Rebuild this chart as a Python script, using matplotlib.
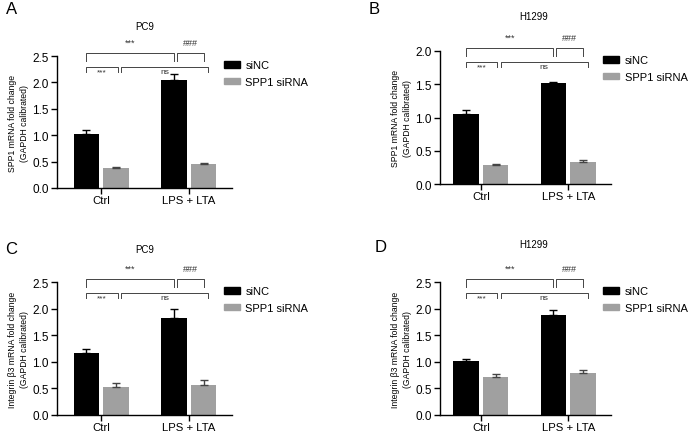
import numpy as np
import matplotlib
matplotlib.use("Agg")
import matplotlib.pyplot as plt
from matplotlib.patches import Patch
import matplotlib.transforms as mtransforms

plt.rcParams["font.family"] = ["Liberation Sans", "DejaVu Sans"]

# ==========================================================
# data
# ==========================================================

groups = ["Ctrl", "LPS + LTA"]

a_sinc = [1.02, 2.04]
a_sinc_err = [0.08, 0.12]
a_spp1 = [0.37, 0.46]
a_spp1_err = [0.02, 0.01]

b_sinc = [1.06, 1.52]
b_sinc_err = [0.06, 0.02]
b_spp1 = [0.28, 0.33]
b_spp1_err = [0.015, 0.03]

c_sinc = [1.17, 1.82]
c_sinc_err = [0.08, 0.18]
c_spp1 = [0.52, 0.56]
c_spp1_err = [0.09, 0.10]

d_sinc = [1.02, 1.88]
d_sinc_err = [0.04, 0.09]
d_spp1 = [0.72, 0.79]
d_spp1_err = [0.06, 0.06]

spp1_label = "SPP1 mRNA fold change\n(GAPDH calibrated)"
itg_label = "Integrin \u03b23 mRNA fold change\n(GAPDH calibrated)"

W, H = 691, 435

# panel: letter, title, ylabel, ymax, sinc, sinc_err, spp1, spp1_err,
#        axes rect in pixels (left, right, top, bottom), letter pos, title y
panels = [
    ("A", "PC9", spp1_label, 2.5, a_sinc, a_sinc_err, a_spp1, a_spp1_err,
     (57, 232, 57, 189), (6, 10), 1.23),
    ("B", "H1299", spp1_label, 2.0, b_sinc, b_sinc_err, b_spp1, b_spp1_err,
     (440, 611, 52, 185), (369, 9), 1.26),
    ("C", "PC9", itg_label, 2.5, c_sinc, c_sinc_err, c_spp1, c_spp1_err,
     (57, 232, 283, 416), (5, 250), 1.25),
    ("D", "H1299", itg_label, 2.5, d_sinc, d_sinc_err, d_spp1, d_spp1_err,
     (440, 611, 283, 416), (375, 248), 1.285),
]

black = "#000000"
grey = "#a0a0a0"
off = 0.17
bw = 0.29

fig = plt.figure(figsize=(W / 100, H / 100), dpi=100)


def bracket(ax, x1, x2, y, tip, label, above):
    tr = mtransforms.blended_transform_factory(ax.transData, ax.transAxes)
    ax.plot([x1, x1, x2, x2], [tip, y, y, tip], color="#444444", lw=0.7,
            transform=tr, clip_on=False)
    if above:
        ax.text((x1 + x2) / 2, y + 0.05, label, ha="center", va="bottom",
                fontsize=6.5, color="#333333", transform=tr)
    else:
        ax.text((x1 + x2) / 2, y - 0.012, label, ha="center", va="top",
                fontsize=6, color="#333333", transform=tr)


for (letter, title, ylab, ymax, sinc, sinc_err, spp1, spp1_err,
     rect, lpos, ty) in panels:
    left, right, top, bottom = rect
    ax = fig.add_axes([left / W, 1 - bottom / H,
                       (right - left) / W, (bottom - top) / H])
    x = np.arange(len(groups))
    ax.bar(x - off, sinc, bw, color=black,
           yerr=[np.zeros(len(sinc)), sinc_err],
           error_kw=dict(ecolor=black, capsize=3, elinewidth=1, capthick=1))
    ax.bar(x + off, spp1, bw, color=grey,
           yerr=[np.zeros(len(spp1)), spp1_err],
           error_kw=dict(ecolor="#444444", capsize=3, elinewidth=1, capthick=1))

    # x range from pixel layout (group spacing ~87 px)
    x0 = -(101 - left) / 87 if left == 57 else -(481 - left) / 88
    ax.set_xlim(x0, x0 + (right - left) / 87.5)
    ax.set_ylim(0, ymax)
    yt = np.arange(0, ymax + 0.01, 0.5)
    ax.set_yticks(yt)
    ax.set_yticklabels([f"{v:.1f}" for v in yt])
    ax.set_xticks(x)
    ax.set_xticklabels(groups)
    ax.tick_params(axis="y", labelsize=8.5, length=4, width=1, pad=2)
    ax.tick_params(axis="x", labelsize=8.2, length=4, width=1, pad=1)
    for s in ["top", "right"]:
        ax.spines[s].set_visible(False)
    for s in ["left", "bottom"]:
        ax.spines[s].set_linewidth(1.0)
    ax.set_ylabel(ylab, fontsize=6.2, labelpad=2, linespacing=1.5)

    ax.text(0.5 if letter in "AC" else 0.55, ty, title, ha="center",
            va="center", fontsize=7, transform=ax.transAxes)
    fig.text(lpos[0] / W, 1 - lpos[1] / H, letter, fontsize=12,
             ha="left", va="center")

    # significance brackets
    bracket(ax, -off, 1 - off, 1.02, 0.965, "***", True)
    bracket(ax, 1 - off + 0.03, 1 + off, 1.02, 0.965, "###", True)
    bracket(ax, -off, off + 0.02, 0.92, 0.88, "***", False)
    bracket(ax, off + 0.06, 1 + off + 0.05, 0.92, 0.88, "ns", False)

    handles = [Patch(color=black), Patch(color=grey)]
    ax.legend(handles, ["siNC", "SPP1 siRNA"], loc="upper left",
              bbox_to_anchor=(0.93, 1.0), frameon=False, fontsize=8,
              handlelength=1.4, handleheight=0.5, handletextpad=0.5,
              labelspacing=0.6, borderaxespad=0)

fig.savefig("out.png", dpi=100)
